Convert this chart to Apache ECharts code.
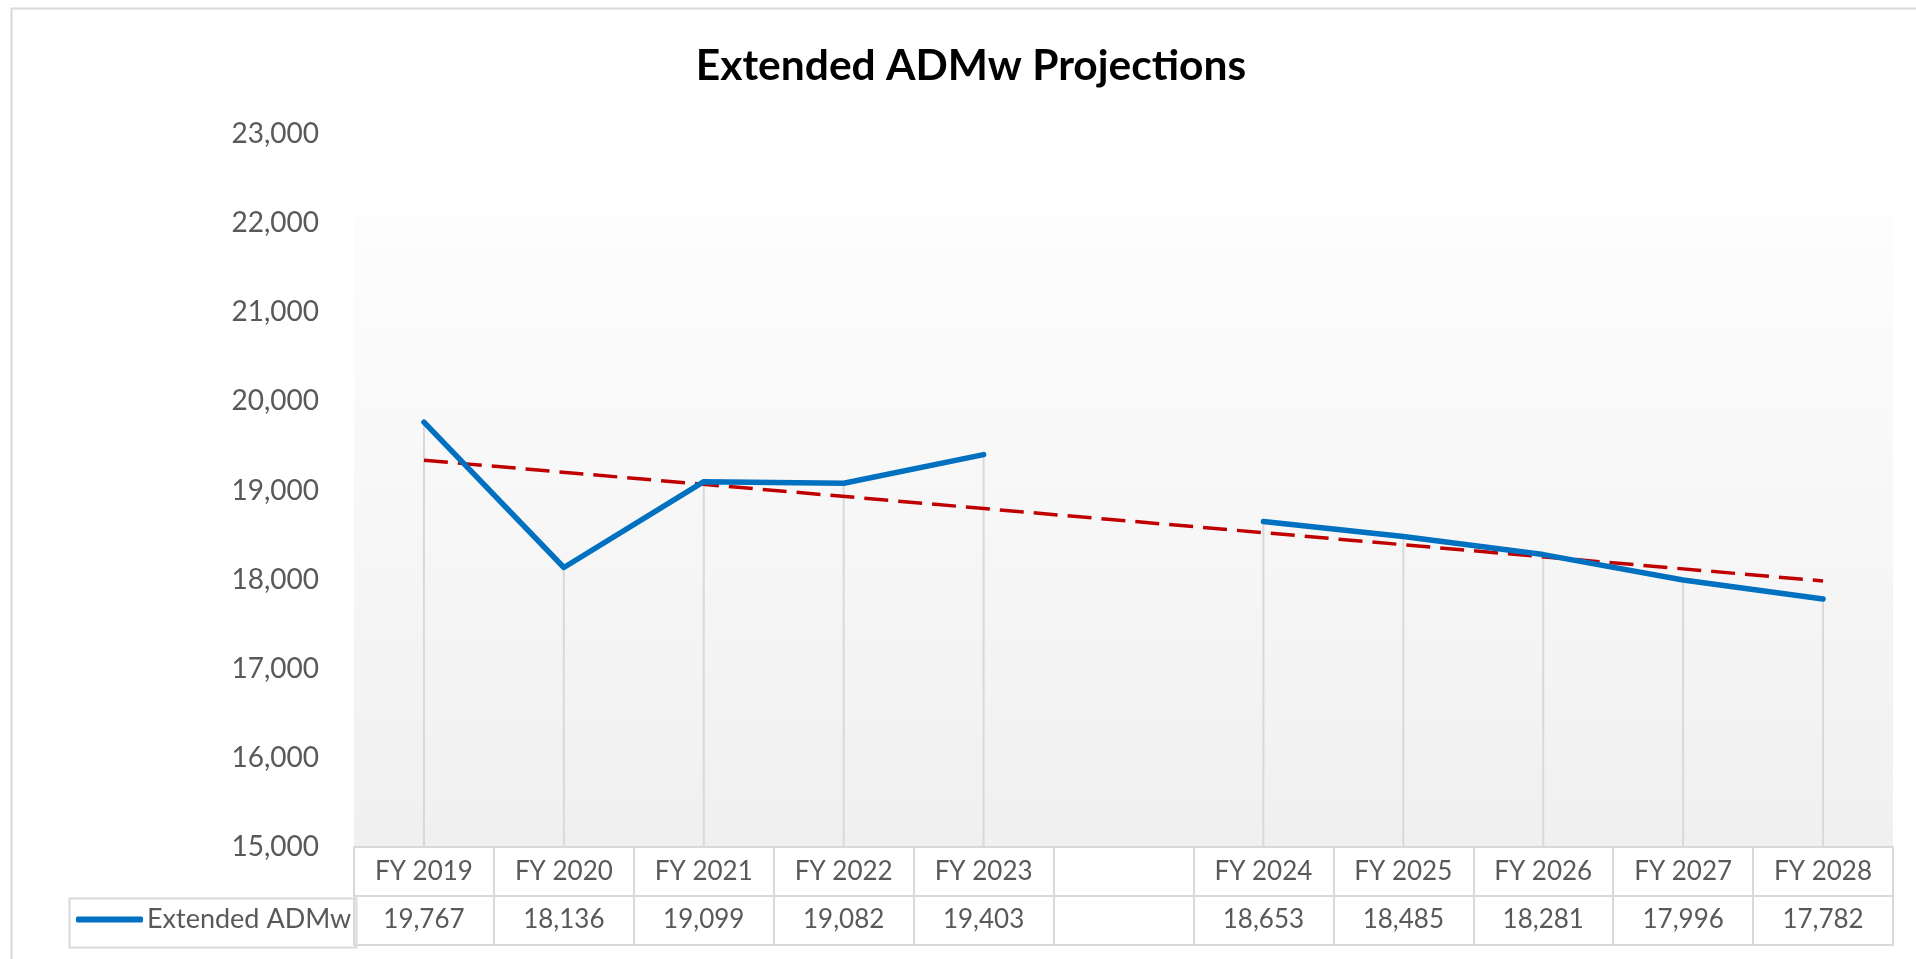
<!DOCTYPE html>
<html>
<head>
<meta charset="utf-8">
<script src="https://cdn.jsdelivr.net/npm/echarts@6/dist/echarts.min.js"></script>
<style>
html, body { margin: 0; padding: 0; background: #ffffff; }
#chart { width: 1916px; height: 959px; }
</style>
</head>
<body>
<div id="chart"></div>
<script>
// ---- data ----
const categories = ['FY 2019', 'FY 2020', 'FY 2021', 'FY 2022', 'FY 2023', '', 'FY 2024', 'FY 2025', 'FY 2026', 'FY 2027', 'FY 2028'];
const admwValues = [19767, 18136, 19099, 19082, 19403, null, 18653, 18485, 18281, 17996, 17782];
// linear trendline endpoints (FY 2019 and FY 2028)
const trendValues = [19340, null, null, null, null, null, null, null, null, null, 17985];
const yMin = 15000;
const yMax = 23000;
const yStep = 1000;
const seriesName = 'Extended ADMw';
const chartTitle = 'Extended ADMw Projections';

// ---- chart ----
const FONT = 'Lato';
const GRAY_TEXT = '#595959';
const BORDER = '#d9d9d9';
const chart = echarts.init(document.getElementById('chart'), null, { renderer: 'canvas' });

const fmt = v => v == null ? '' : v.toLocaleString('en-US');

const option = {
  backgroundColor: '#ffffff',
  animation: false,
  title: {
    text: chartTitle,
    left: 966,
    top: 40,
    textAlign: 'center',
    textStyle: { fontFamily: FONT, fontWeight: 'bold', fontSize: 42.5, color: '#000000' }
  },
  legend: {
    data: [seriesName],
    left: 76,
    top: 906,
    padding: 0,
    icon: 'roundRect',
    itemWidth: 67,
    itemHeight: 6,
    itemGap: 0,
    selectedMode: false,
    textStyle: { fontFamily: FONT, fontSize: 27, color: GRAY_TEXT, padding: [0, 0, 0, -1] }
  },
  grid: {
    left: 354,
    right: 23,
    top: 134,
    bottom: 112,
    show: true,
    borderWidth: 0,
    backgroundColor: new echarts.graphic.LinearGradient(0, 0, 0, 1, [
      { offset: 0, color: '#ffffff' },
      { offset: 0.115, color: '#ffffff' },
      { offset: 0.117, color: '#fdfdfd' },
      { offset: 1, color: '#f0f0f0' }
    ])
  },
  xAxis: [
    {
      type: 'category',
      data: categories,
      position: 'bottom',
      boundaryGap: true,
      axisLine: { show: true, lineStyle: { color: BORDER, width: 2 } },
      axisTick: { show: true, interval: 0, length: 98, lineStyle: { color: BORDER, width: 2 } },
      axisLabel: { interval: 0, margin: 12, fontFamily: FONT, fontSize: 26, color: GRAY_TEXT },
      splitLine: { show: false }
    },
    {
      type: 'category',
      data: categories,
      position: 'bottom',
      offset: 49,
      boundaryGap: true,
      axisLine: { show: true, lineStyle: { color: BORDER, width: 2 } },
      axisTick: { show: false },
      axisLabel: {
        interval: 0, margin: 11, fontFamily: FONT, fontSize: 26, color: GRAY_TEXT,
        formatter: (val, idx) => fmt(admwValues[idx])
      },
      splitLine: { show: false }
    },
    {
      type: 'category',
      data: categories,
      position: 'bottom',
      offset: 98,
      boundaryGap: true,
      axisLine: { show: true, lineStyle: { color: BORDER, width: 2 } },
      axisTick: { show: false },
      axisLabel: { show: false },
      splitLine: { show: false }
    }
  ],
  yAxis: {
    type: 'value',
    min: yMin,
    max: yMax,
    interval: yStep,
    axisLine: { show: false },
    axisTick: { show: false },
    splitLine: { show: false },
    axisLabel: {
      margin: 35, fontFamily: FONT, fontSize: 28, color: GRAY_TEXT,
      formatter: v => fmt(v)
    }
  },
  graphic: [
    {
      type: 'rect',
      left: 9, top: 6,
      shape: { x: 0, y: 0, width: 1940, height: 1000 },
      style: { fill: 'none', stroke: BORDER, lineWidth: 2 },
      silent: true, z: -1
    },
    {
      type: 'rect',
      left: 67, top: 896,
      shape: { x: 0, y: 0, width: 287, height: 49 },
      style: { fill: 'none', stroke: BORDER, lineWidth: 2 },
      silent: true, z: 5
    }
  ],
  series: [
    {
      name: 'drop',
      type: 'bar',
      data: admwValues,
      barWidth: 2,
      itemStyle: { color: BORDER },
      silent: true,
      z: 1
    },
    {
      name: 'trend',
      type: 'line',
      data: trendValues,
      connectNulls: true,
      symbol: 'none',
      lineStyle: { color: '#c00000', width: 3.5, type: [24, 10] },
      silent: true,
      z: 3
    },
    {
      name: seriesName,
      type: 'line',
      data: admwValues,
      connectNulls: false,
      symbol: 'none',
      itemStyle: { color: '#0070c0' },
      lineStyle: { color: '#0070c0', width: 5.5, cap: 'round', join: 'round' },
      z: 4
    }
  ]
};
chart.setOption(option);
</script>
</body>
</html>
